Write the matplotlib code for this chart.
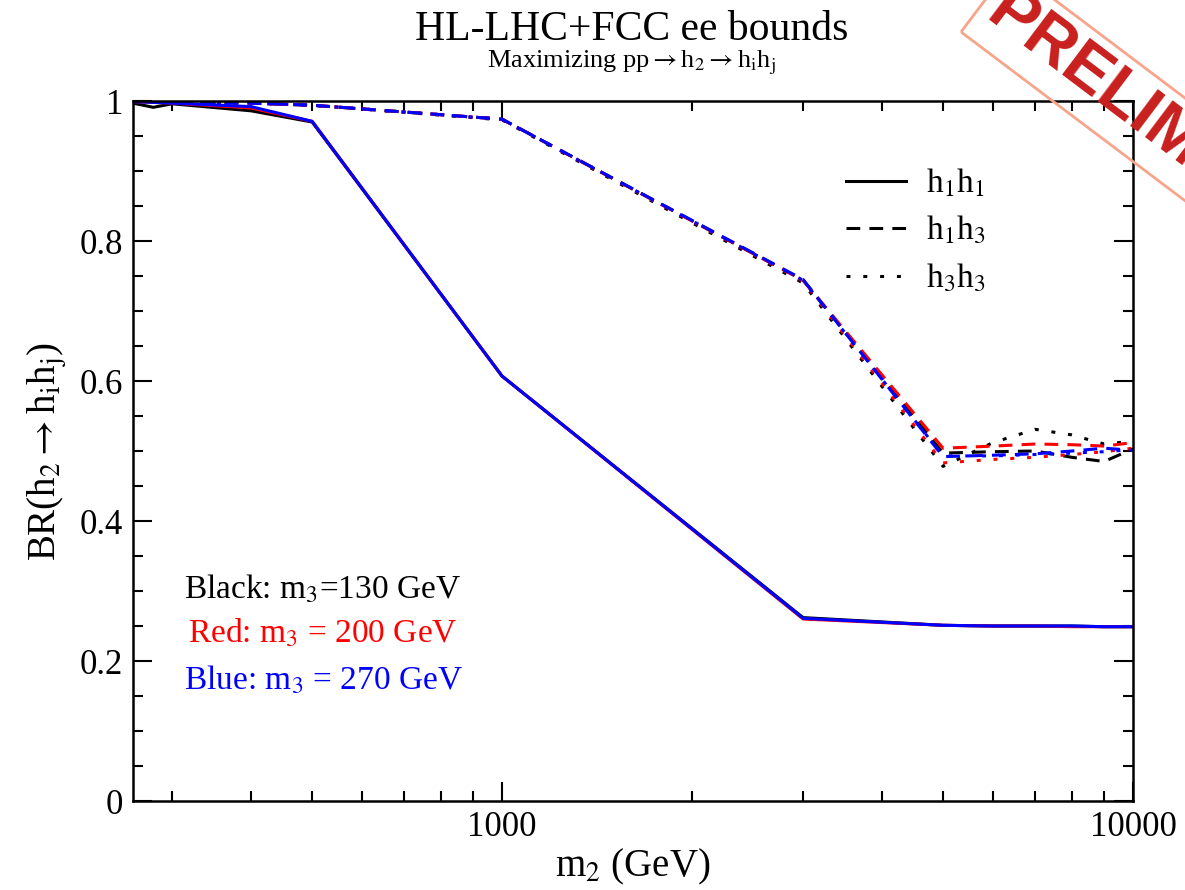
import numpy as np
import matplotlib
matplotlib.use('Agg')
import matplotlib.pyplot as plt
from matplotlib.lines import Line2D
from matplotlib.ticker import FixedLocator, MultipleLocator, LogLocator, NullFormatter, FuncFormatter

plt.rcParams['font.family'] = ['Liberation Serif', 'DejaVu Serif']
plt.rcParams['mathtext.fontset'] = 'stix'

# m2 grid (GeV)
m2 = [260, 280, 300, 400, 500, 1000, 3000, 5000, 6000, 7000, 8000, 9000, 10000]

# BR(h2 -> h1 h1), solid
h1h1_m130 = [0.997, 0.991, 0.996, 0.986, 0.970, 0.607, 0.262, 0.251, 0.250, 0.250, 0.250, 0.249, 0.249]
h1h1_m200 = [0.999, 0.998, 0.997, 0.990, 0.971, 0.607, 0.260, 0.251, 0.250, 0.250, 0.249, 0.249, 0.249]
h1h1_m270 = [0.999, 0.998, 0.997, 0.992, 0.971, 0.607, 0.261, 0.251, 0.250, 0.250, 0.250, 0.249, 0.249]

# BR(h2 -> h1 h3), dashed
h1h3_m130 = [1.0, 0.999, 0.999, 0.997, 0.994, 0.974, 0.744, 0.497, 0.499, 0.500, 0.491, 0.485, 0.503]
h1h3_m200 = [1.0, 0.999, 0.999, 0.997, 0.994, 0.974, 0.744, 0.504, 0.507, 0.510, 0.509, 0.507, 0.512]
h1h3_m270 = [1.0, 0.999, 0.999, 0.997, 0.994, 0.974, 0.745, 0.492, 0.494, 0.496, 0.500, 0.504, 0.501]

# BR(h2 -> h3 h3), dotted
h3h3_m130 = [1.0, 0.999, 0.999, 0.997, 0.994, 0.973, 0.740, 0.478, 0.512, 0.531, 0.523, 0.510, 0.514]
h3h3_m200 = [1.0, 0.999, 0.999, 0.997, 0.994, 0.974, 0.743, 0.483, 0.488, 0.491, 0.495, 0.499, 0.504]
h3h3_m270 = [1.0, 0.999, 0.999, 0.997, 0.994, 0.974, 0.744, 0.493, 0.493, 0.495, 0.497, 0.499, 0.502]

colors = ['black', 'red', 'blue']
solid = [h1h1_m130, h1h1_m200, h1h1_m270]
dashed = [h1h3_m130, h1h3_m200, h1h3_m270]
dotted = [h3h3_m130, h3h3_m200, h3h3_m270]
legend_labels = [r'h$_1$h$_1$', r'h$_1$h$_3$', r'h$_3$h$_3$']
notes = [r'Black: m$_3$=130 GeV', r'Red: m$_3$ = 200 GeV', r'Blue: m$_3$ = 270 GeV']

ls_dash = (0, (4.5, 3))
ls_dot = (0, (1.3, 4.2))
lw = 2.2

fig = plt.figure(figsize=(11.85, 8.9), dpi=100)
ax = fig.add_axes([0.1122, 0.1, 0.8439, 0.7865])

for c, s, d, t in zip(colors, solid, dashed, dotted):
    ax.plot(m2, s, color=c, lw=lw, ls='-')
    ax.plot(m2, d, color=c, lw=lw, ls=ls_dash, dash_capstyle='butt')
    ax.plot(m2, t, color=c, lw=lw, ls=ls_dot, dash_capstyle='butt')

ax.set_xscale('log')
ax.set_xlim(260, 10000)
ax.set_ylim(0, 1)
ax.xaxis.set_major_locator(FixedLocator([1000, 10000]))
ax.xaxis.set_major_formatter(FuncFormatter(lambda v, p: '%d' % v))
ax.xaxis.set_minor_locator(LogLocator(base=10, subs=np.arange(2, 10)))
ax.xaxis.set_minor_formatter(NullFormatter())
ax.yaxis.set_major_locator(MultipleLocator(0.2))
ax.yaxis.set_minor_locator(MultipleLocator(0.05))
ax.yaxis.set_major_formatter(FuncFormatter(lambda v, p: '%g' % v))
ax.tick_params(which='both', direction='in', top=True, right=True, width=1.5, labelsize=25)
ax.tick_params(which='major', length=14, pad=7)
ax.tick_params(which='minor', length=7)
for sp in ax.spines.values():
    sp.set_linewidth(1.8)

ax.set_xlabel(r'm$_2$ (GeV)', fontsize=28, labelpad=2)
ax.set_ylabel(r'BR(h$_2$$\rightarrow$h$_\mathrm{i}$h$_\mathrm{j}$)', fontsize=28, labelpad=8)

handles = [Line2D([], [], color='black', lw=lw, ls=ls) for ls in ['-', ls_dash, ls_dot]]
ax.legend(handles, legend_labels, loc='upper left', bbox_to_anchor=(0.70, 0.925), frameon=False,
          fontsize=24, handlelength=1.8, handletextpad=0.6, labelspacing=0.45, borderaxespad=0)

for txt, c, y in zip(notes, colors, [0.29, 0.226, 0.159]):
    ax.text(0.19, y, txt, color=c, fontsize=24, ha='center', va='baseline', transform=ax.transAxes)

fig.text(0.5333, 1 - 40 / 890, 'HL-LHC+FCC ee bounds', fontsize=30, ha='center', va='baseline')
fig.text(0.5333, 1 - 67 / 890, r'Maximizing pp$\rightarrow$h$_2$$\rightarrow$h$_\mathrm{i}$h$_\mathrm{j}$',
         fontsize=19, ha='center', va='baseline')

# preliminary stamp
fig.text(0.8228, 0.9663, 'PRELIMINARY', family='Liberation Sans', fontweight='bold', fontsize=48,
         color='#c8201e', rotation=-37, rotation_mode='anchor', ha='left', va='bottom', zorder=10,
         bbox=dict(boxstyle='square,pad=0.15', fc='none', ec='#f7a58a', lw=2))

fig.savefig('out.png', dpi=100)
